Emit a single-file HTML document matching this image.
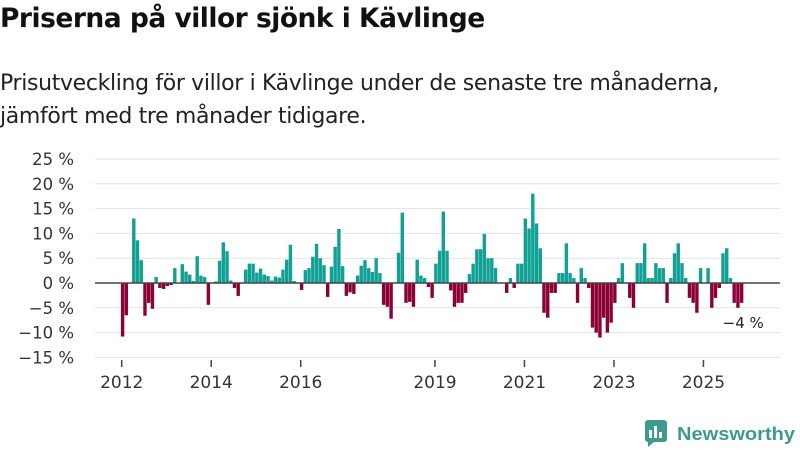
<!DOCTYPE html>
<html><head><meta charset="utf-8">
<style>
html,body{margin:0;padding:0;background:#fff;}
body{width:800px;height:450px;overflow:hidden;font-family:"Liberation Sans","DejaVu Sans",sans-serif;color:#111;}
#title{position:absolute;left:0;top:3px;font-size:26.5px;font-weight:bold;margin:0;font-family:"DejaVu Sans","Liberation Sans",sans-serif;letter-spacing:-0.5px;white-space:nowrap;}
#subtitle{position:absolute;left:0;top:67px;font-size:22px;line-height:33px;color:#222;font-family:"DejaVu Sans","Liberation Sans",sans-serif;letter-spacing:-0.35px;white-space:nowrap;}
svg{position:absolute;left:0;top:0;}
</style></head>
<body>
<h1 id="title">Priserna på villor sjönk i Kävlinge</h1>
<div id="subtitle">Prisutveckling för villor i Kävlinge under de senaste tre månaderna,<br>jämfört med tre månader tidigare.</div>
<svg id="chart" width="800" height="450"></svg>
<script>
const startYear = 2012;
const values = [-10.8,-6.5,0,13,8.6,4.6,-6.6,-4,-5.2,1.2,-1,-1.2,-0.6,-0.4,3,0,3.8,2.3,1.7,0.4,5.4,1.5,1.2,-4.4,0,0.3,4.5,8.2,6.4,0.5,-1,
-2.6,0,2.7,3.9,3.9,2.1,2.9,1.7,1.4,0.5,1.3,1.1,2.7,4.7,7.7,0.4,0,-1.4,2.6,3,5.3,7.9,5,3.6,-2.8,3.3,7.3,10.9,3.4,-2.6,-1.9,-2.2,1.5,3.5,4.6,3,
2.2,5,2,-4.4,-4.8,-7.2,0,6.1,14.2,-4,-3.8,-4.8,4.7,1.5,1,-0.8,-3,3.9,6.5,14.4,6.5,-1.5,-4.8,-4,-4,-2,1.8,3.9,6.8,6.8,9.9,5,5,3,
0,0,-2,1,-1,3.9,3.9,13,11,18,12,7,-6,-7,-2,-2,2,2,8,2,1,-4,3,1,-1,-9,-10,-11,-7,-10,-8,-4,1,4,0,-3,-5,4,4,8,1,1,4,3,3,-4,1,6,8,4,1,-3,-4,-6,3,0,3,-5,-3,-1,6,7,1,-4,-5,-4];
const yTicks = [25,20,15,10,5,0,-5,-10,-15];
const xTickYears = [2012,2014,2016,2019,2021,2023,2025];
const lastLabel = "−4 %";

const NS="http://www.w3.org/2000/svg";
const svg=document.getElementById('chart');
const X0=121.2, PX_YEAR=44.75, Y0=283, PX_PCT=4.96, L=95, R=780;
function xScale(t){return X0+(t-startYear)*PX_YEAR;}
function yScale(v){return Y0-v*PX_PCT;}
function mk(tag,attrs){const e=document.createElementNS(NS,tag);for(const k in attrs)e.setAttribute(k,attrs[k]);svg.appendChild(e);return e;}

yTicks.forEach(v=>{
  const g=mk('line',{x1:L,x2:R,y1:yScale(v),y2:yScale(v),stroke:'#e2e2e2','stroke-width':1});
  
  
  const t=mk('text',{x:74,y:yScale(v)+6,'text-anchor':'end','font-size':16.5,fill:'#333','font-family':'"DejaVu Sans","Liberation Sans",sans-serif'});
  t.textContent=(v<0?'−'+(-v):v)+' %';
  
  
});
values.forEach((v,i)=>{
  const x=xScale(startYear+i/12);
  const y=v>=0?yScale(v):Y0;
  const h=Math.abs(yScale(v)-Y0);
  const b=mk('rect',{x:x-0.3,y:y,width:3.4,height:h,fill:v>=0?'#11a094':'#8c0036'});
  
  
});
const zl=mk('line',{x1:L,x2:R,y1:Y0,y2:Y0,stroke:'#444','stroke-width':1.5});


xTickYears.forEach(yr=>{
  const x=xScale(yr)+0.5;
  const tk=mk('line',{x1:x,x2:x,y1:360,y2:367,stroke:'#444','stroke-width':1.5});
  
  
  const t=mk('text',{x:x,y:388,'text-anchor':'middle','font-size':17,fill:'#333','font-family':'"DejaVu Sans","Liberation Sans",sans-serif'});
  t.textContent=yr;
  
  
});
const li=values.length-1;
const lab=mk('text',{x:xScale(startYear+li/12)+3,y:yScale(values[li])+25,'text-anchor':'middle','font-size':15,fill:'#222','font-family':'"DejaVu Sans","Liberation Sans",sans-serif'});
lab.textContent=lastLabel;


</script>
<svg width="160" height="40" style="left:640px;top:414px">
  <rect x="5" y="6" width="22" height="22" rx="3" fill="#3d9a8f"/>
  <rect x="9" y="16" width="3" height="8" fill="#fff"/>
  <rect x="14" y="12" width="3" height="12" fill="#fff"/>
  <rect x="19" y="18" width="3" height="6" fill="#fff"/>
  <polygon points="8,28 14,28 8,33" fill="#3d9a8f"/>
  <text x="37" y="26" font-size="18.5" font-weight="bold" fill="#3d9a8f" textLength="118" lengthAdjust="spacingAndGlyphs" font-family="'Liberation Sans','DejaVu Sans',sans-serif">Newsworthy</text>
</svg>
</body></html>
